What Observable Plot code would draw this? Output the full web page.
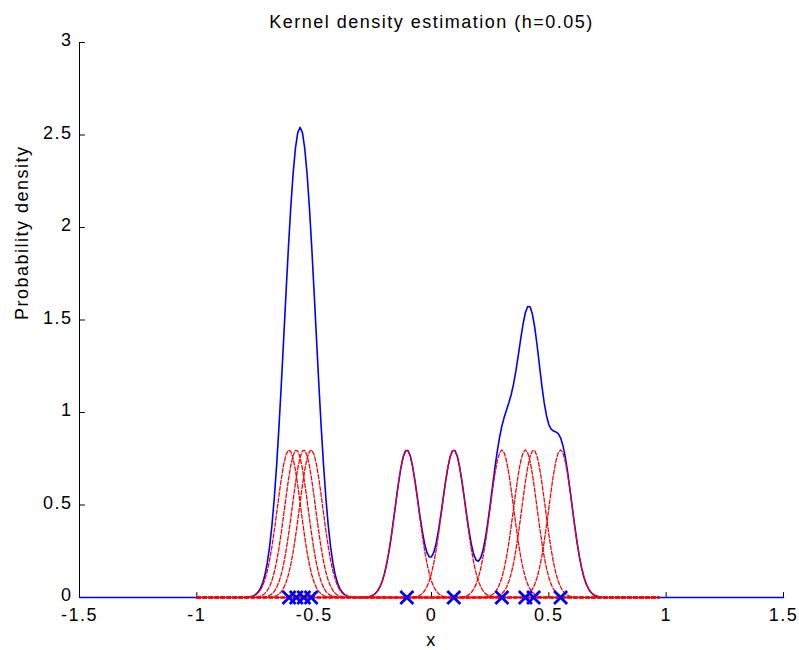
<!DOCTYPE html>
<html><head><meta charset="utf-8">
<script src="https://cdn.jsdelivr.net/npm/d3@7"></script>
<script src="https://cdn.jsdelivr.net/npm/@observablehq/plot@0.6"></script>
<style>
body{margin:0;background:#fff}
#chart svg text{letter-spacing:1.5px}
</style>
</head><body><div id="chart"></div>
<script>
// Sample points (blue crosses)
const samples = [-0.607, -0.576, -0.544, -0.513, -0.105, 0.095, 0.30, 0.40, 0.435, 0.55];
const bandwidth = 0.05;
const kernelRange = [-1, 0.97];
const densityRange = [-1.5, 1.5];
const gridStep = 0.01;

const xTicks = [-1.5, -1, -0.5, 0, 0.5, 1, 1.5];
const xTickLabels = ["-1.5", "-1", "-0.5", "0", "0.5", "1", "1.5"];
const yTicks = [0, 0.5, 1, 1.5, 2, 2.5, 3];
const yTickLabels = ["0", "0.5", "1", "1.5", "2", "2.5", "3"];

const title = "Kernel density estimation (h=0.05)";
const xLabel = "x";
const yLabel = "Probability density";

// Gaussian kernel density estimate, as stated in the chart title
const n = samples.length;
const kern = (x, c) => Math.exp(-0.5 * ((x - c) / bandwidth) ** 2) / (bandwidth * Math.sqrt(2 * Math.PI)) / n;
const grid = (a, b) => d3.range(Math.round((b - a) / gridStep) + 1).map(i => a + i * gridStep);

const kernelRows = [];
samples.forEach((c, k) => {
  for (const x of grid(kernelRange[0], kernelRange[1])) kernelRows.push({k, x, y: kern(x, c)});
});
const densityRows = grid(densityRange[0], densityRange[1]).map(x => ({x, y: d3.sum(samples, c => kern(x, c))}));

const font = "'Liberation Sans', Arial, Helvetica, sans-serif";
const tickShape = {draw(context, l) { context.moveTo(0, 0); context.lineTo(0, -l); }};

const chart = Plot.plot({
  width: 799, height: 650,
  marginLeft: 79, marginRight: 16, marginTop: 42, marginBottom: 53,
  x: {domain: [-1.5, 1.5]},
  y: {domain: [0, 3]},
  style: {fontFamily: font, fontSize: "18px", background: "white", color: "black"},
  marks: [
    Plot.ruleX([-1.5], {stroke: "black"}),
    Plot.ruleY([0], {stroke: "black"}),
    Plot.vector(xTicks, {x: d => d, y: 0, length: 5, rotate: 0, anchor: "start", shape: tickShape, stroke: "black", strokeWidth: 1}),
    Plot.vector(yTicks, {x: -1.5, y: d => d, length: 5, rotate: 90, anchor: "start", shape: tickShape, stroke: "black", strokeWidth: 1}),
    Plot.axisX({ticks: xTicks, tickFormat: d => xTickLabels[xTicks.indexOf(d)], tickSize: 0, tickPadding: 11, label: null, fontSize: 18}),
    Plot.axisY({ticks: yTicks, tickFormat: d => yTickLabels[yTicks.indexOf(d)], tickSize: 0, tickPadding: 7, dy: -2, label: null, fontSize: 18}),
    Plot.line(densityRows, {x: "x", y: "y", stroke: "#0000ff", strokeWidth: 1.6}),
    Plot.line(kernelRows, {x: "x", y: "y", z: "k", stroke: "#ff0000", strokeWidth: 1.3, strokeDasharray: "4,2"}),
    Plot.dot(samples, {x: d => d, y: 0, symbol: "times", r: 6, stroke: "#0000ff", strokeWidth: 2.8}),
    Plot.text([title], {frameAnchor: "top", dy: -20, lineAnchor: "middle", fontSize: 18}),
    Plot.text([xLabel], {frameAnchor: "bottom", dy: 43, lineAnchor: "middle", fontSize: 18}),
    Plot.text([yLabel], {frameAnchor: "left", dx: -57, rotate: -90, lineAnchor: "middle", fontSize: 18})
  ]
});
document.getElementById("chart").append(chart);
</script>
</body></html>
